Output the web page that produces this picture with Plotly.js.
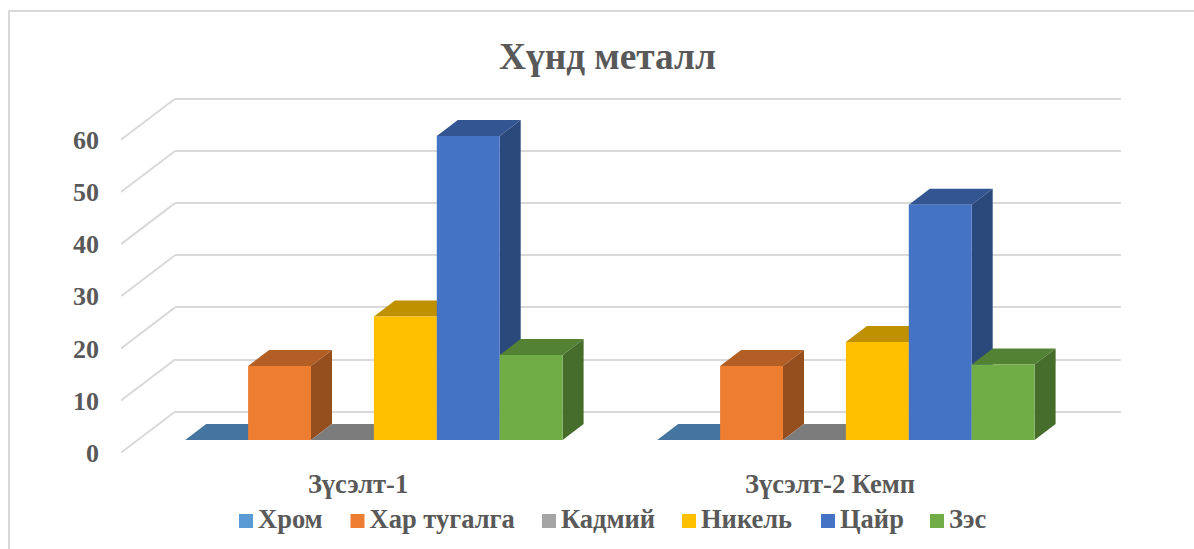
<!DOCTYPE html>
<html>
<head>
<meta charset="utf-8">
<script src="https://cdn.plot.ly/plotly-3.0.1.min.js"></script>
<style>html,body{margin:0;padding:0;background:#fff;overflow:hidden}</style>
</head>
<body>
<div id="chart" style="width:1194px;height:549px"></div>
<script>
// ---- data ----
const categories = ["Зүсэлт-1", "Зүсэлт-2 Кемп"];
const seriesNames = ["Хром", "Хар тугалга", "Кадмий", "Никель", "Цайр", "Зэс"];
const seriesColors = ["#5b9bd5", "#ed7d31", "#a5a5a5", "#ffc000", "#4472c4", "#70ad47"];
const chrome = [0, 0];
const lead = [14.2, 14.2];
const cadmium = [0, 0];
const nickel = [23.7, 18.8];
const zinc = [58.3, 45.1];
const copper = [16.3, 14.5];
const seriesValues = [chrome, lead, cadmium, nickel, zinc, copper];
const tickValues = [0, 10, 20, 30, 40, 50, 60];

// ---- geometry of the fake 3-D box (page pixels) ----
const W = 1194, H = 549;
const pxPerUnitY = 5.215;        // pixels per value unit
const pxPerCat = 472;            // pixels per category
const floorLeft = 121, wallLeft = 175, plotRight = 1121;
const frontBottom = 452.7, backBottom = 411.7, plotTop = 98.5;
const barBase = 440;
const cat0Px = 358;              // centre of first category on the front edge
const barShiftPx = 15.9;         // bars sit right of the centre
const barWidthPx = 62.9;
const barGap = 1 - 6 * barWidthPx / pxPerCat;
const barDepthX = 21, barDepthY = 16;
const wallDepthX = wallLeft - floorLeft, wallDepthY = frontBottom - backBottom;
const wallPad = 6;               // keeps first and last gridline inside the wall axis range

const ink = "#595959", gridColor = "#d9d9d9";
const serif = "Liberation Serif";
const boldFont = s => ({family: serif, size: s, color: ink, weight: 700});

const shade = (hex, k) => {
  const n = parseInt(hex.slice(1), 16);
  return `rgb(${Math.round((n >> 16) * k)},${Math.round(((n >> 8) & 255) * k)},${Math.round((n & 255) * k)})`;
};

// axes ranges
const xRange = [(floorLeft - cat0Px) / pxPerCat, (plotRight - cat0Px) / pxPerCat];
const plotH = frontBottom - plotTop;
const yFront = [0, plotH / pxPerUnitY];
const baseOffset = (frontBottom - barBase) / pxPerUnitY;
const yBars = [-baseOffset, yFront[1] - baseOffset];
const shiftCat = barShiftPx / pxPerCat;
const barW = (1 - barGap) / seriesNames.length;
const dxCat = barDepthX / pxPerCat, dyVal = barDepthY / pxPerUnitY;

const traces = [];

// back wall: native gridlines
traces.push({type: "scatter", x: [0], y: [0], xaxis: "x", yaxis: "y", mode: "none", hoverinfo: "skip", showlegend: false});

// side-wall diagonals, built from tick values
const diagX = [], diagY = [];
tickValues.forEach(v => {
  diagX.push(xRange[0], xRange[0] + wallDepthX / pxPerCat, null);
  diagY.push(v, v + wallDepthY / pxPerUnitY, null);
});
traces.push({type: "scatter", x: diagX, y: diagY, xaxis: "x2", yaxis: "y2", mode: "lines",
  line: {color: gridColor, width: 2}, hoverinfo: "skip", showlegend: false, cliponaxis: false});

// depth faces (top + right side), left to right
seriesNames.forEach((name, s) => {
  seriesValues[s].forEach((v, c) => {
    const x0 = c + shiftCat + (s - seriesNames.length / 2) * barW, x1 = x0 + barW;
    const y0 = baseOffset, y1 = baseOffset + v;
    traces.push({type: "scatter", xaxis: "x2", yaxis: "y2", mode: "lines", fill: "toself",
      x: [x0, x1, x1 + dxCat, x0 + dxCat, x0], y: [y1, y1, y1 + dyVal, y1 + dyVal, y1],
      fillcolor: shade(seriesColors[s], 0.75), line: {width: 0}, hoverinfo: "skip", showlegend: false, cliponaxis: false});
    traces.push({type: "scatter", xaxis: "x2", yaxis: "y2", mode: "lines", fill: "toself",
      x: [x1, x1 + dxCat, x1 + dxCat, x1, x1], y: [y1, y1 + dyVal, y0 + dyVal, y0, y1],
      fillcolor: shade(seriesColors[s], 0.63), line: {width: 0}, hoverinfo: "skip", showlegend: false, cliponaxis: false});
  });
});

// front faces
seriesNames.forEach((name, s) => {
  traces.push({type: "bar", name, x: categories, y: seriesValues[s], xaxis: "x3", yaxis: "y3",
    marker: {color: seriesColors[s], line: {width: 0}}, showlegend: false});
});

// legend row
const legendSwatchX = [246, 357.5, 549, 689, 828, 937];
const legendTextGap = 12;
const legendY = 521;
seriesNames.forEach((name, s) => {
  traces.push({type: "scatter", xaxis: "x4", yaxis: "y4", mode: "markers",
    x: [legendSwatchX[s]], y: [legendY], marker: {symbol: "square", size: 14, color: seriesColors[s]},
    hoverinfo: "skip", showlegend: false, cliponaxis: false});
  traces.push({type: "scatter", xaxis: "x4", yaxis: "y4", mode: "text",
    x: [legendSwatchX[s] + legendTextGap], y: [legendY], text: [name], textposition: "middle right",
    textfont: boldFont(26.5), hoverinfo: "skip", showlegend: false, cliponaxis: false});
});

const frac = px => px / W, yfrac = py => 1 - py / H;

const layout = {
  width: W, height: H,
  margin: {l: 0, r: 0, t: 0, b: 0, pad: 0},
  paper_bgcolor: "#fff", plot_bgcolor: "rgba(0,0,0,0)",
  showlegend: false, barmode: "group", bargap: barGap, bargroupgap: 0,
  title: {text: "Хүнд металл", x: 607.5 / W, xanchor: "center", y: yfrac(56), yanchor: "middle", font: boldFont(37.3)},
  // back wall
  xaxis: {domain: [frac(wallLeft), frac(plotRight)], range: [0, 1], visible: false, fixedrange: true},
  yaxis: {domain: [yfrac(backBottom + wallPad), yfrac(plotTop - wallPad)],
    range: [-wallPad / pxPerUnitY, (backBottom - plotTop + wallPad) / pxPerUnitY], anchor: "x",
    tickvals: tickValues, showticklabels: false, ticks: "", showgrid: true, gridcolor: gridColor, gridwidth: 2,
    zeroline: false, showline: false, fixedrange: true},
  // front plane: carries the visible tick labels
  xaxis2: {domain: [frac(floorLeft), frac(plotRight)], range: xRange, anchor: "y2", tickmode: "array", tickvals: [0, 1], ticktext: categories,
    showgrid: false, zeroline: false, showline: false, ticks: "", tickfont: boldFont(26.5), ticklabelstandoff: 13, fixedrange: true},
  yaxis2: {domain: [yfrac(frontBottom), yfrac(plotTop)], range: yFront, anchor: "x2", tickvals: tickValues,
    showgrid: false, zeroline: false, showline: false, ticks: "", tickfont: boldFont(26), ticklabelstandoff: 21, fixedrange: true},
  // bars, over the depth faces
  xaxis3: {overlaying: "x2", type: "category", range: [xRange[0] - shiftCat, xRange[1] - shiftCat], anchor: "y3", visible: false, fixedrange: true},
  yaxis3: {overlaying: "y2", range: yBars, anchor: "x3", visible: false, fixedrange: true},
  // page-pixel layer for the legend row
  xaxis4: {domain: [0, 1], range: [0, W], anchor: "y4", visible: false, fixedrange: true},
  yaxis4: {domain: [0, 1], range: [H, 0], anchor: "x4", visible: false, fixedrange: true},
  shapes: [
    {type: "line", xref: "paper", yref: "paper", x0: frac(9), x1: frac(9), y0: yfrac(10), y1: 0, line: {color: gridColor, width: 2}},
    {type: "line", xref: "paper", yref: "paper", x0: frac(8), x1: 1, y0: yfrac(11), y1: yfrac(11), line: {color: gridColor, width: 2}}
  ]
};

Plotly.newPlot("chart", traces, layout, {displayModeBar: false, staticPlot: true});
</script>
</body>
</html>
